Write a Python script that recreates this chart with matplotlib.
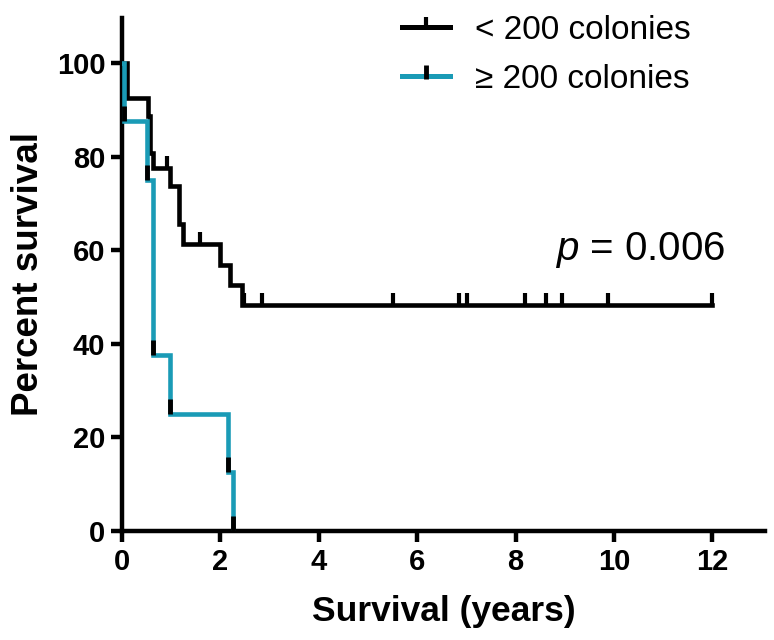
import matplotlib
matplotlib.use("Agg")
import matplotlib.pyplot as plt
from matplotlib.path import Path
from matplotlib.lines import Line2D

plt.rcParams['font.family'] = ['Liberation Sans', 'DejaVu Sans']
plt.rcParams['mathtext.fontset'] = 'custom'
plt.rcParams['mathtext.it'] = 'Liberation Sans:italic'
plt.rcParams['mathtext.rm'] = 'Liberation Sans'

# ---- data ----
low_times = [0.0, 0.10, 0.52, 0.57, 0.63, 0.98, 1.15, 1.23, 2.00, 2.19, 2.44, 12.0]
low_surv = [100, 92.6, 88.7, 80.8, 77.6, 73.7, 65.6, 61.4, 56.8, 52.6, 48.2, 48.2]
low_censor_t = [0.92, 1.58, 2.47, 2.84, 5.51, 6.85, 7.02, 8.19, 8.61, 8.95, 9.87, 12.0]
low_censor_s = [77.6, 61.4, 48.2, 48.2, 48.2, 48.2, 48.2, 48.2, 48.2, 48.2, 48.2, 48.2]

high_times = [0.0, 0.05, 0.50, 0.63, 0.98, 2.16, 2.25]
high_surv = [100, 87.5, 75.0, 37.5, 25.0, 12.5, 0.0]

labels = ['< 200 colonies', '\u2265 200 colonies']
p_text = r'$\it{p}$ = 0.006'
x_ticks = [0, 2, 4, 6, 8, 10, 12]
y_ticks = [0, 20, 40, 60, 80, 100]

blue = '#1a9bb6'
up_tick = Path([(0, 0), (0, 1)], [Path.MOVETO, Path.LINETO])
leg_tick = Path([(0, -0.3), (0, 1)], [Path.MOVETO, Path.LINETO])

fig = plt.figure(figsize=(7.74, 6.4), dpi=100)
ax = fig.add_axes([122 / 774, (640 - 531) / 640, (765 - 122) / 774, (531 - 18) / 640])

ax.step(low_times, low_surv, where='post', color='black', lw=3.3, solid_joinstyle='miter', zorder=3)
ax.plot(low_censor_t, low_censor_s, ls='none', marker=up_tick, ms=17, mew=3,
        mec='black', zorder=4, clip_on=False)

ax.step(high_times, high_surv, where='post', color=blue, lw=3.3, solid_joinstyle='miter', zorder=5)
ax.plot(high_times[1:], high_surv[1:], ls='none', marker=up_tick, ms=21, mew=3.5,
        mec='black', zorder=6, clip_on=False)

ax.set_xlim(0, 13.07)
ax.set_ylim(0, 109.6)
ax.set_xticks(x_ticks)
ax.set_yticks(y_ticks)
for s in ['top', 'right']:
    ax.spines[s].set_visible(False)
for s in ['left', 'bottom']:
    ax.spines[s].set_linewidth(3.2)
ax.tick_params(axis='both', direction='out', length=8, width=3.2, labelsize=21, pad=4)
for lab in ax.get_xticklabels() + ax.get_yticklabels():
    lab.set_fontweight('bold')

ax.set_xlabel('Survival (years)', fontsize=25.5, fontweight='bold', labelpad=14)
ax.set_ylabel('Percent survival', fontsize=26.5, fontweight='bold', labelpad=8)

ax.text(8.8, 58.0, p_text, fontsize=29, ha='left', va='baseline')

handles = [
    Line2D([], [], color='black', lw=3.6, marker=up_tick, ms=14, mew=3, mec='black'),
    Line2D([], [], color=blue, lw=3.6, marker=leg_tick, ms=16, mew=3.5, mec='black'),
]
leg = ax.legend(handles, labels, loc='upper left', bbox_to_anchor=(0.389, 1.065),
                frameon=False, fontsize=24, handlelength=1.45, handletextpad=0.75,
                labelspacing=0.55, numpoints=1)

fig.savefig('out.png', dpi=100)
